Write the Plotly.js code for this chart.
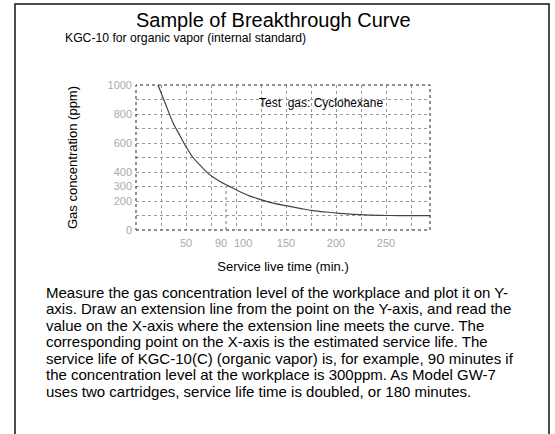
<!DOCTYPE html>
<html>
<head>
<meta charset="utf-8">
<script src="https://cdn.plot.ly/plotly-3.0.1.min.js"></script>
<style>
html,body{margin:0;padding:0;background:#fff;}
#chart{width:555px;height:434px;}
</style>
</head>
<body>
<div id="chart"></div>
<script>
// Data
const serviceTime = [22, 30, 37, 44, 50, 57, 65, 74, 84, 94, 104, 114, 121, 134, 151, 165, 177, 190, 204, 229, 254, 280, 294];
const gasConc     = [1000, 860, 740, 650, 574, 500, 440, 380, 335, 299, 264, 234, 218, 190, 166, 148, 134, 124, 115, 104, 100, 99, 99];
const exampleTime = [90, 90];
const exampleConc = [0, 300];
const xTickVals = [50, 150, 200, 250];
const xTickText = ['50', '150', '200', '250'];
const xCloseTickVals = [90, 100];          // closely spaced labels drawn separately
const xCloseTickText = ['90', '100'];
const yTickVals = [0, 200, 300, 400, 600, 800, 1000];
const yTickText = ['0', '200', '300', '400', '600', '800', '1000'];
const paragraphLines = [
  'Measure the gas concentration level of the workplace and plot it on Y-',
  'axis. Draw an extension line from the point on the Y-axis, and read the',
  'value on the X-axis where the extension line meets the curve. The',
  'corresponding point on the X-axis is the estimated service life. The',
  'service life of KGC-10(C) (organic vapor) is, for example, 90 minutes if',
  'the concentration level at the workplace is 300ppm. As Model GW-7',
  'uses two cartridges, service life time is doubled, or 180 minutes.'
];

const FONT = 'Arial, "Liberation Sans", sans-serif';
const L = 136, R = 430, T = 85, B = 230;
const px2x = p => (p - L) / (R - L);
const px2y = p => (B - p) / (B - T);
const TICKFONT = {family: FONT, size: 11, color: '#aaa'};

const traces = [
  {
    x: exampleTime, y: exampleConc, mode: 'lines', type: 'scatter',
    line: {color: '#777', width: 1, dash: 'dot'}, hoverinfo: 'skip', showlegend: false
  },
  {
    x: serviceTime, y: gasConc, mode: 'lines', type: 'scatter',
    line: {color: '#444', width: 1.2, shape: 'spline'}, showlegend: false
  }
];

const annotations = [
  {text: 'Sample of Breakthrough Curve', xref: 'paper', yref: 'paper', x: px2x(273), y: px2y(20),
   xanchor: 'center', yanchor: 'middle', showarrow: false, font: {family: FONT, size: 20, color: '#000'}},
  {text: 'KGC-10 for organic vapor (internal standard)', xref: 'paper', yref: 'paper', x: px2x(63), y: px2y(38),
   xanchor: 'left', yanchor: 'middle', showarrow: false, font: {family: FONT, size: 12.2, color: '#000'}},
  {text: 'Test&nbsp; gas: Cyclohexane', xref: 'paper', yref: 'paper', x: px2x(257), y: px2y(103),
   xanchor: 'left', yanchor: 'middle', showarrow: false, font: {family: FONT, size: 12, color: '#000'}}
];
const closeShift = [-5, 7];
xCloseTickVals.forEach((v, i) => {
  annotations.push({text: xCloseTickText[i], xref: 'x', yref: 'paper', x: v, y: px2y(242.5),
    xanchor: 'center', yanchor: 'middle', xshift: closeShift[i], showarrow: false, font: TICKFONT});
});
paragraphLines.forEach((t, i) => {
  annotations.push({text: t, xref: 'paper', yref: 'paper', x: px2x(44), y: px2y(292 + i * 16.5),
    xanchor: 'left', yanchor: 'middle', showarrow: false, font: {family: FONT, size: 15, color: '#000'}});
});

const shapes = [
  // plot frame (dotted)
  {type: 'rect', xref: 'paper', yref: 'paper', x0: 0, x1: 1, y0: 0, y1: 1,
   line: {color: '#222', width: 1, dash: 'dot'}},
  // outer page frame (left, top, right)
  {type: 'path', xref: 'paper', yref: 'paper',
   path: `M ${px2x(15)} ${px2y(434)} L ${px2x(15)} ${px2y(4)} L ${px2x(549)} ${px2y(4)} L ${px2x(549)} ${px2y(434)}`,
   line: {color: '#111', width: 1.5}}
];

const layout = {
  width: 555, height: 434,
  margin: {l: L, r: 555 - R, t: T, b: 434 - B, pad: 0},
  paper_bgcolor: '#fff', plot_bgcolor: '#fff',
  font: {family: FONT, size: 12, color: '#000'},
  xaxis: {
    range: [0, 294], showline: false, zeroline: false,
    showgrid: true, gridcolor: '#999', griddash: 'dot', gridwidth: 1,
    tickmode: 'array', tickvals: xTickVals, ticktext: xTickText, tickangle: 0,
    ticks: '', tickfont: TICKFONT, ticklabelstandoff: 5,
    title: {text: 'Service live time (min.)', font: {family: FONT, size: 13, color: '#000'}, standoff: 13}
  },
  yaxis: {
    range: [0, 1000], showline: false, zeroline: false,
    showgrid: true, gridcolor: '#999', griddash: 'dot', gridwidth: 1,
    tickmode: 'array', tickvals: yTickVals, ticktext: yTickText,
    ticks: '', tickfont: TICKFONT, ticklabelstandoff: 3,
    title: {text: 'Gas concentration (ppm)', font: {family: FONT, size: 13, color: '#000'}, standoff: 26}
  },
  annotations: annotations,
  shapes: shapes,
  showlegend: false
};

// grid lines every 25 min / 100 ppm using minor grid
layout.xaxis.minor = {tick0: 0, dtick: 25, showgrid: true, gridcolor: '#999', griddash: 'dot', gridwidth: 1};
layout.yaxis.minor = {tick0: 0, dtick: 100, showgrid: true, gridcolor: '#999', griddash: 'dot', gridwidth: 1};

Plotly.newPlot('chart', traces, layout, {displayModeBar: false, staticPlot: true});
</script>
</body>
</html>
